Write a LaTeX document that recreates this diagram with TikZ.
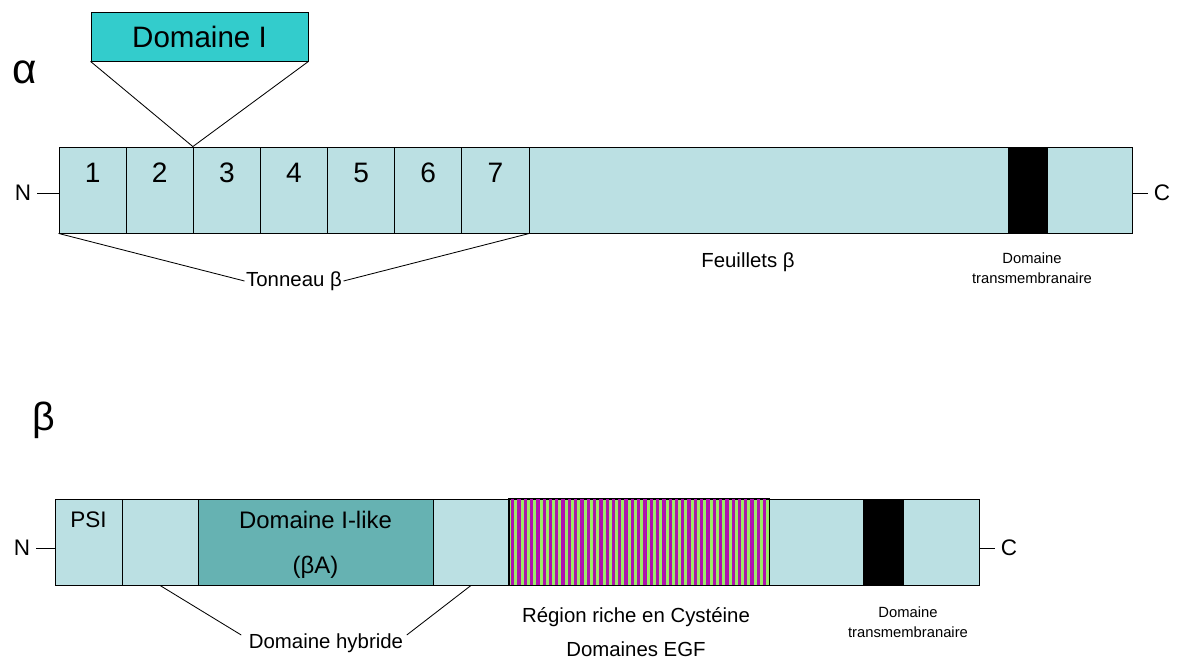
\documentclass[tikz,border=0pt]{standalone}
\usepackage{fontspec}
\setmainfont{Liberation Sans}
\definecolor{segblue}{HTML}{BBE0E3}
\definecolor{domteal}{HTML}{33CCCC}
\definecolor{ilike}{HTML}{66B2B2}
\definecolor{stripemag}{HTML}{B010B0}
\definecolor{stripegreen}{HTML}{99EE66}
\newcommand{\fs}[1]{\fontsize{#1}{#1}\selectfont}
\begin{document}
\begin{tikzpicture}[x=0.025cm,y=-0.025cm,
  seg/.style={fill=segblue,draw,line width=0.6pt,shape=rectangle,inner sep=0pt,minimum height=2.15cm},
  tm/.style={fill=black,draw,line width=0.6pt,shape=rectangle,inner sep=0pt,minimum height=2.15cm},
  lab/.style={inner sep=1pt,font=\fs{14.5}},
  small/.style={inner sep=0pt,align=center,font={\fontsize{10.5}{14}\selectfont}},
  term/.style={inner sep=4pt,font=\fs{16}},
  thin/.style={line width=0.6pt}]
\useasboundingbox (0,0) rectangle (1177,660);
% chaine alpha
\node[font=\fs{30}](alpha) at (25,72){α};
\foreach \i in {1,...,7}
  \node[seg,minimum width=1.6786cm,label={[anchor=north,font=\fs{20},yshift=-8pt]north:\i}](a\i) at ({59+67.14*(\i-0.5)},190){};
\node[seg,minimum width=11.975cm](afeu) at (768.5,190){};
\node[tm,minimum width=0.975cm](atm) at (1027.5,190){};
\node[seg,minimum width=2.125cm](aend) at (1089.5,190){};
\node[fill=domteal,draw,thin,shape=rectangle,minimum width=5.425cm,minimum height=1.225cm,font=\fs{21}](domI) at (199.5,36.5){Domaine I};
\draw[thin] (domI.south west) -- (a3.north west) -- (domI.south east);
\node[term,anchor=east](aN) at (37,193){N};
\draw[thin] (aN.east) -- (aN.east -| a1.west);
\node[term,anchor=west](aC) at (1148,193){C};
\draw[thin] (aC.west -| aend.east) -- (aC.west);
\node[lab](tonneau) at (294,281){Tonneau β};
\draw[thin] (a1.south west) -- (tonneau.west);
\draw[thin] (a7.south east) -- (tonneau.east);
\node[lab](feuillets) at (748,262){Feuillets β};
\node[small](atmlab) at (1032,268){Domaine\\transmembranaire};
% chaine beta
\node[font=\fs{28}](beta) at (44,420){β};
\node[seg,minimum width=1.675cm,label={[anchor=north,font=\fs{16},yshift=-6pt]north:PSI}](psi) at (88.5,542){};
\node[seg,minimum width=1.9cm](h1) at (160,542){};
\node[seg,fill=ilike,minimum width=5.875cm,label={[align=center,font=\fs{17},yshift=-2pt]center:Domaine I-like\\[15pt](βA)}](ilk) at (315.5,542){};
\node[seg,minimum width=1.9cm](h2) at (471,542){};
\node[seg,fill=stripegreen,minimum width=6.5cm](egf) at (639,542){};
\foreach \k in {0,...,40}
  \fill[stripemag] ({511+6.3*\k},499) rectangle ++(3.3,86);
\draw[thin] (egf.north west) rectangle (egf.south east);
\node[seg,minimum width=2.35cm](bmid) at (816,542){};
\node[tm,minimum width=1cm](btm) at (883,542){};
\node[seg,minimum width=1.9cm](bend) at (941,542){};
\node[term,anchor=east](bN) at (36,548){N};
\draw[thin] (bN.east) -- (bN.east -| psi.west);
\node[term,anchor=west](bC) at (995,548){C};
\draw[thin] (bC.west -| bend.east) -- (bC.west);
\node[lab](hybride) at (326,643){Domaine hybride};
\draw[thin] (h1.south) -- ([shift={(-6,-8)}]hybride.west);
\draw[thin] (h2.south) -- ([shift={(2,-8)}]hybride.east);
\node[lab,align=center,font={\fontsize{14.5}{24}\selectfont}](riche) at (636,632){Région riche en Cystéine\\Domaines EGF};
\node[small](btmlab) at (908,622){Domaine\\transmembranaire};
\end{tikzpicture}
\end{document}
